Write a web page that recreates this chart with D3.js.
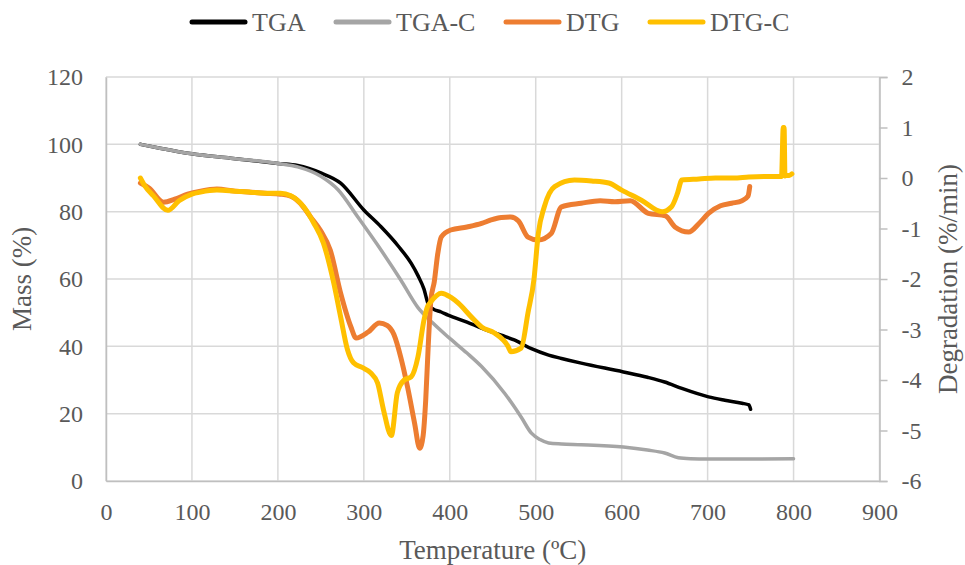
<!DOCTYPE html>
<html><head><meta charset="utf-8">
<script src="https://cdn.jsdelivr.net/npm/d3@7"></script>
<style>body{margin:0;background:#fff}svg{display:block}text{font-family:"Liberation Serif","Times New Roman",serif;fill:#595959}</style>
</head><body>
<svg id="c" width="965" height="565"></svg>
<script>
const xTicks=[0,100,200,300,400,500,600,700,800,900];
const leftTicks=[0,20,40,60,80,100,120];
const rightTicks=[-6,-5,-4,-3,-2,-1,0,1,2];
const seriesNames=["TGA","TGA-C","DTG","DTG-C"];

const tgaT=[40,60,100,145,200,223,250,273,300,320,340,355,363,370,375,380,390,398,420,437,460,475,495,515,530,553,602,630,650,670,701,720,740,748,750];
const tgaM=[100,99,97.2,95.9,94.3,93.7,91.5,88.5,80.5,75.5,69.8,64.7,61,57,52.5,51.2,50.2,49.3,47.2,45.4,43.3,41.9,39.3,37.4,36.4,35,32.4,30.8,29.4,27.5,25,24,23.1,22.6,21.3];

const tgacT=[40,60,100,145,200,223,250,270,293,320,343,363,380,398,420,437,464,483,495,505,515,530,553,602,630,650,666,680,700,750,800];
const tgacM=[100,99,97.2,95.9,94.3,93.3,90.5,86.5,78.4,68.6,59.7,51.5,47,42.8,38,34,26,19,14.2,12.3,11.3,11,10.8,10.1,9.2,8.3,6.9,6.6,6.5,6.5,6.6];

const dtgT=[40,50,67,80,95,110,129,150,168,185,203,215,226,238,250,261,273,285,291,305,318,327,335,343,351,359,365,369,372,375,378,382,386,390,401,420,437,448,460,471,480,491,503,518,530,553,575,592,610,631,651,662,678,690,701,715,728,740,747,749];
const dtgV=[-0.1,-0.2,-0.48,-0.42,-0.32,-0.26,-0.22,-0.26,-0.28,-0.3,-0.32,-0.36,-0.5,-0.77,-1.05,-1.43,-2.28,-2.95,-3.17,-3.05,-2.87,-2.92,-3.1,-3.55,-4.15,-4.85,-5.35,-5.1,-4.4,-3.3,-2.42,-2.05,-1.5,-1.17,-1.03,-0.97,-0.9,-0.83,-0.78,-0.77,-0.85,-1.17,-1.23,-1.1,-0.57,-0.5,-0.45,-0.47,-0.45,-0.7,-0.75,-0.97,-1.07,-0.9,-0.7,-0.55,-0.5,-0.45,-0.36,-0.17];

const dtgcT=[40,45,55,72,85,100,110,129,150,168,185,203,215,230,242,253,265,273,281,288,298,308,316,323,332,339,347,355,363,370,374,378,390,401,410,425,437,452,468,471,483,491,498,503,510,522,545,565,585,600,623,647,658,665,670,690,709,730,748,770,786,788,789,790,791,795,798];
const dtgcV=[0.0,-0.15,-0.35,-0.64,-0.45,-0.32,-0.28,-0.24,-0.26,-0.28,-0.3,-0.3,-0.35,-0.57,-0.9,-1.29,-2.08,-2.75,-3.4,-3.66,-3.75,-3.86,-4.06,-4.6,-5.1,-4.25,-4.0,-3.94,-3.54,-2.81,-2.55,-2.45,-2.28,-2.36,-2.48,-2.75,-2.95,-3.07,-3.34,-3.44,-3.37,-2.67,-2.0,-1.1,-0.57,-0.17,-0.04,-0.06,-0.1,-0.24,-0.44,-0.67,-0.57,-0.3,-0.04,-0.02,0.0,0.0,0.02,0.03,0.03,1.0,1.0,0.04,0.05,0.05,0.08];

const colors=["#000000","#A5A5A5","#ED7D31","#FFC000"];

const svg=d3.select("#c");
const L=106,R=879.5,T=77,B=481;
const x=d3.scaleLinear().domain([0,900]).range([L,R]);
const yL=d3.scaleLinear().domain([0,120]).range([B,T]);
const yR=d3.scaleLinear().domain([-6,2]).range([B,T]);

// gridlines
const g=svg.append("g");
g.selectAll(".hg").data(leftTicks).join("line").attr("x1",L).attr("x2",R).attr("y1",d=>yL(d)).attr("y2",d=>yL(d)).attr("stroke","#D9D9D9").attr("stroke-width",1.5);
g.selectAll(".vg").data(xTicks).join("line").attr("y1",T).attr("y2",B).attr("x1",d=>x(d)).attr("x2",d=>x(d)).attr("stroke","#D9D9D9").attr("stroke-width",1.5);

// axes
const fs=24;
const xa=d3.axisBottom(x).tickValues(xTicks).tickSize(0).tickPadding(22);
const gx=svg.append("g").attr("transform",`translate(0,${B})`).call(xa);
const ya=d3.axisLeft(yL).tickValues(leftTicks).tickSize(0).tickPadding(23);
const gy=svg.append("g").attr("transform",`translate(${L},0)`).call(ya);
const yra=d3.axisRight(yR).tickValues(rightTicks).tickSize(8).tickPadding(14).tickFormat(d3.format("d"));
const gyr=svg.append("g").attr("transform",`translate(${R},0)`).call(yra);
[gx,gy,gyr].forEach(a=>{
  a.select(".domain").attr("stroke","#BFBFBF").attr("stroke-width",1.5);
  a.selectAll(".tick line").attr("stroke","#BFBFBF").attr("stroke-width",1.5);
  a.selectAll("text").style("font-size",fs+"px").style("font-family",'"Liberation Serif",serif').attr("fill","#595959");
});
gyr.selectAll("text").text(d=>d<0?"-"+Math.abs(d):d);

// lines
const lineL=d3.line().x(d=>x(d[0])).y(d=>yL(d[1])).curve(d3.curveMonotoneX);
const lineR=d3.line().x(d=>x(d[0])).y(d=>yR(d[1])).curve(d3.curveMonotoneX);
const zip=(a,b)=>a.map((v,i)=>[v,b[i]]);
const plot=svg.append("g");
plot.append("path").attr("d",lineL(zip(tgaT,tgaM))).attr("fill","none").attr("stroke",colors[0]).attr("stroke-width",3.5).attr("stroke-linecap","round").attr("stroke-linejoin","round");
plot.append("path").attr("d",lineL(zip(tgacT,tgacM))).attr("fill","none").attr("stroke",colors[1]).attr("stroke-width",3.5).attr("stroke-linecap","round").attr("stroke-linejoin","round");
plot.append("path").attr("d",lineR(zip(dtgT,dtgV))).attr("fill","none").attr("stroke",colors[2]).attr("stroke-width",5).attr("stroke-linecap","round").attr("stroke-linejoin","round");
plot.append("path").attr("d",lineR(zip(dtgcT,dtgcV))).attr("fill","none").attr("stroke",colors[3]).attr("stroke-width",5).attr("stroke-linecap","round").attr("stroke-linejoin","round");

// titles
svg.append("text").attr("x",(L+R)/2).attr("y",559).attr("text-anchor","middle").style("font-size","27px").text("Temperature (ºC)");
svg.append("text").attr("transform",`translate(31,${(T+B)/2}) rotate(-90)`).attr("text-anchor","middle").style("font-size","27px").text("Mass (%)");
svg.append("text").attr("transform",`translate(957,${(T+B)/2}) rotate(-90)`).attr("text-anchor","middle").style("font-size","27px").text("Degradation (%/min)");

// legend
const legX=[190,334,504,648];
const lg=svg.append("g");
seriesNames.forEach((n,i)=>{
  lg.append("line").attr("x1",legX[i]+2).attr("x2",legX[i]+55).attr("y1",22).attr("y2",22).attr("stroke",colors[i]).attr("stroke-width",5).attr("stroke-linecap","round");
  lg.append("text").attr("x",legX[i]+62).attr("y",31).style("font-size","26px").text(n);
});
</script>
</body></html>
